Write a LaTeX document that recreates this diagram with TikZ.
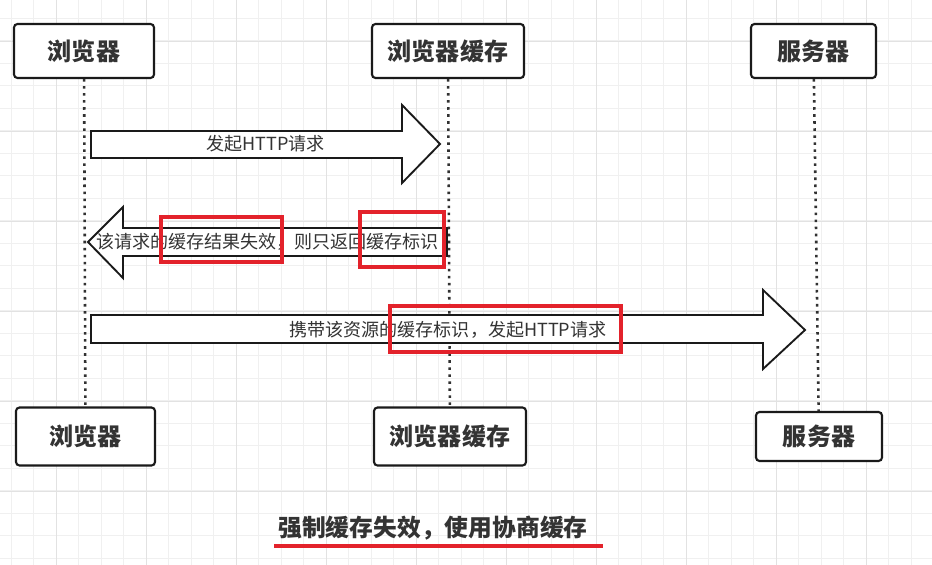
\documentclass[tikz,border=0pt]{standalone}
\usepackage{fontspec}
\setmainfont{Noto Sans CJK SC}
\usepackage{tikz}
\usetikzlibrary{positioning}
\definecolor{seqink}{HTML}{333333}
\definecolor{seqline}{HTML}{1A1A1A}
\definecolor{seqred}{HTML}{E3222B}
\definecolor{gridlight}{HTML}{F0F0F0}
\definecolor{griddark}{HTML}{E2E2E2}
\tikzset{
  actor/.style={rounded corners=3pt, draw=seqline, line width=1.8pt, fill=white, text=seqink, minimum height=1.62cm, font=\bfseries\fontsize{20.5}{24}\selectfont},
  lifeline/.style={draw=seqline!90, line width=2.2pt, dash pattern=on 2.2pt off 3.8pt},
  blockarrow/.style={draw=seqline, line width=1.6pt, fill=white, line join=miter},
  msg/.style={text=seqink, inner sep=0pt, font=\fontsize{15.4}{18}\selectfont},
  hilite/.style={draw=seqred, line width=2.9pt},
  caption/.style={text=seqink, font=\bfseries\fontsize{20.3}{24}\selectfont},
  minorline/.style={draw=gridlight, line width=0.8pt},
  majorline/.style={draw=griddark, line width=0.8pt}
}

\begin{document}
\begin{tikzpicture}[x=0.03cm, y=-0.03cm]
  \useasboundingbox (0,0) rectangle (932,565);
  % background grid
  \foreach \gx in {0,...,40} \draw[minorline] ({11+22.5*\gx},0) -- ({11+22.5*\gx},565);
  \foreach \gy in {0,...,24} \draw[minorline] (0,{18+22.5*\gy}) -- (932,{18+22.5*\gy});
  \foreach \gx in {0,...,9} \draw[majorline] ({56+90*\gx},0) -- ({56+90*\gx},565);
  \foreach \gy in {0,...,5} \draw[majorline] (0,{41+90*\gy}) -- (932,{41+90*\gy});

  % actors
  \node[actor, minimum width=4.2cm] (browsertop) at (84,51) {浏览器};
  \node[actor, minimum width=4.56cm] (cachetop) at (448,51) {浏览器缓存};
  \node[actor, minimum width=3.75cm] (servertop) at (813.5,51) {服务器};
  \node[actor, minimum width=4.17cm, minimum height=1.74cm] (browserbot) at (85.5,436.5) {浏览器};
  \node[actor, minimum width=4.56cm, minimum height=1.74cm] (cachebot) at (450,436.5) {浏览器缓存};
  \node[actor, minimum width=3.78cm, minimum height=1.47cm] (serverbot) at (819,436.5) {服务器};

  % lifelines
  \draw[lifeline] (browsertop) -- (browserbot);
  \draw[lifeline] (cachetop) -- (cachebot);
  \draw[lifeline] (servertop) -- (serverbot);

  % messages
  \draw[blockarrow] (91,131) -- (402,131) -- (402,105) -- (440,144) -- (402,183) -- (402,158) -- (91,158) -- cycle;
  \node[msg] (reqmsg) at (265.5,144) {发起HTTP请求};
  \draw[blockarrow] (447,228) -- (123,228) -- (123,207) -- (88,242) -- (123,278) -- (123,256) -- (447,256) -- cycle;
  \node[msg] (expiredmsg) at (267.5,242) {该请求的缓存结果失效，则只返回缓存标识};
  \draw[blockarrow] (91,315) -- (763,315) -- (763,290) -- (805,330) -- (763,369) -- (763,343) -- (91,343) -- cycle;
  \node[msg] (revalmsg) at (448,330) {携带该资源的缓存标识，发起HTTP请求};

  % highlights
  \draw[hilite] (161,217) rectangle (282,262);
  \draw[hilite] (360,212) rectangle (444,267);
  \draw[hilite] (390,306) rectangle (621,352);

  % caption
  \node[caption] (title) at (433,528) {强制缓存失效，使用协商缓存};
  \draw[seqred, line width=2.6pt] (274,546) -- (603,546);
\end{tikzpicture}
\end{document}
